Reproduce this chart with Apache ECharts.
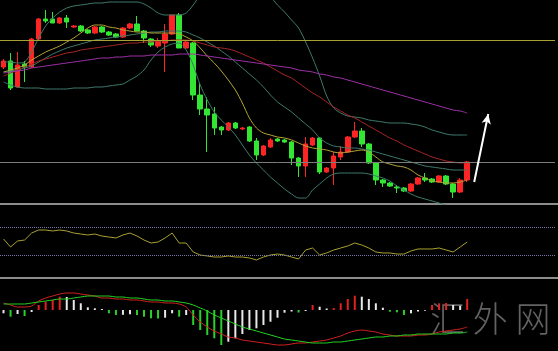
<!DOCTYPE html>
<html>
<head>
<meta charset="utf-8">
<title>K线图</title>
<style>
  html, body { margin: 0; padding: 0; background: #000; }
  #main { width: 558px; height: 351px; }
</style>
</head>
<body>
<div id="main"></div>
<script src="https://cdn.jsdelivr.net/npm/echarts@6/dist/echarts.min.js"></script>
<script>
    // 79 个时间槽, 前 67 根有K线, 右侧留空
    var slotCount = 79;
    var categories = [];
    for (var n = 1; n <= slotCount; n++) categories.push(String(n));

    // [开, 收, 低, 高]
    var kline = [
        [1233,1239,1231,1241],[1239,1212,1210,1247],[1213,1235,1212,1248],[1236,1233,1218,1239],
        [1233,1261,1232,1262],[1261,1281,1260,1282],[1281,1279,1277,1290],[1281,1277,1277,1288],
        [1277,1282,1276,1283],[1282,1278,1272,1285],[1273,1274,1272,1275],[1274,1269,1268,1275],
        [1270,1267,1266,1271],[1267,1273,1266,1274],[1273,1268,1267,1274],[1268,1265,1264,1269],
        [1266,1263,1262,1267],[1263,1272,1262,1273],[1272,1276,1271,1277],[1276,1269,1269,1284],
        [1269,1262,1257,1270],[1261,1255,1253,1262],[1254,1259,1252,1262],[1257,1266,1228,1276],
        [1266,1285,1265,1285],[1285,1252,1252,1287],[1252,1258,1251,1260],[1257,1205,1200,1258],
        [1205,1191,1185,1217],[1191,1185,1148,1203],[1186,1172,1165,1193],[1173,1170,1165,1174],
        [1170,1177,1169,1178],[1177,1172,1171,1178],[1171,1172,1170,1173],[1173,1159,1158,1174],
        [1159,1145,1140,1162],[1145,1154,1144,1155],[1153,1160,1152,1162],[1161,1159,1158,1162],
        [1160,1158,1157,1161],[1158,1142,1135,1159],[1142,1134,1123,1143],[1134,1156,1123,1163],
        [1155,1162,1154,1163],[1162,1128,1126,1163],[1128,1132,1127,1133],[1132,1144,1115,1148],
        [1143,1148,1140,1154],[1148,1163,1147,1164],[1163,1169,1162,1178],[1169,1156,1153,1172],
        [1156,1137,1136,1157],[1137,1120,1115,1138],[1120,1117,1113,1121],[1117,1114,1113,1118],
        [1113,1112,1107,1115],[1112,1109,1108,1113],[1109,1116,1108,1117],[1116,1122,1115,1123],
        [1122,1120,1118,1127],[1121,1118,1117,1122],[1118,1124,1117,1125],[1124,1116,1115,1125],
        [1116,1108,1102,1117],[1108,1120,1107,1122],[1120,1138,1118,1139]
    ];

    var maFast = [1228,1230,1232,1235,1240,1244,1248,1251,1254,1258,1262,1267,1272,1275,1275,1273,1272,1270,1269,1268,
        1268,1267,1267,1267,1267,1266,1263,1259,1252,1244,1237,1229,1220,1210,1197,1182,1172,1167,1165,1163,
        1162,1160,1157,1154,1152,1151,1150,1148,1147,1148,1149,1150,1148,1143,1138,1136,1134,1133,1130,1125,
        1122,1119,1118,1117,1117,1118,1120];
    var maMid = [1224,1227,1230,1233,1236,1239,1241,1243,1245,1247,1248,1250,1251,1252,1253,1254,1255,1256,1257,1257,
        1258,1258,1259,1259,1260,1260,1260,1259,1257,1255,1253,1252,1251,1249,1246,1243,1240,1237,1233,1229,
        1225,1222,1217,1212,1207,1203,1198,1193,1189,1185,1182,1178,1174,1170,1166,1162,1159,1155,1152,1149,
        1146,1143,1141,1139,1138,1137,1137];
    var maSlow = [1227,1228,1229,1230,1232,1233,1234,1235,1236,1237,1238,1239,1240,1241,1242,1242,1243,1243,1244,1244,
        1244,1245,1245,1245,1245,1246,1246,1246,1245,1244,1243,1242,1241,1240,1239,1238,1237,1236,1235,1234,
        1233,1232,1230,1229,1228,1226,1225,1223,1222,1220,1218,1216,1214,1212,1210,1208,1206,1204,1202,1200,
        1198,1196,1194,1192,1190,1189,1187];
    var bollUpper = [1238,1238,1237,1238,1248,1262,1274,1282,1288,1292,1294,1295,1296,1297,1297,1298,1298,1298,1298,1298,
        1296,1292,1287,1285,1285,1285,1287,1295,1305,1312,1320,1325,1328,1328,1325,1320,1314,1307,1303,1295,
        1288,1280,1272,1258,1242,1224,1204,1192,1187,1184,1183,1182,1180,1179,1178,1177,1177,1177,1176,1175,
        1173,1170,1168,1166,1165,1165,1165];
    var bollMiddle = [1228,1229,1230,1232,1234,1238,1242,1246,1249,1252,1254,1256,1258,1260,1261,1262,1263,1264,1265,1266,
        1267,1268,1268,1269,1269,1269,1268,1265,1262,1258,1254,1249,1244,1238,1232,1226,1220,1213,1205,1198,
        1193,1188,1182,1176,1170,1162,1157,1154,1153,1152,1152,1151,1150,1148,1146,1144,1142,1140,1138,1136,
        1134,1133,1132,1131,1130,1130,1130];
    var bollLower = [1218,1215,1213,1212,1212,1212,1211,1211,1211,1211,1212,1212,1212,1213,1213,1214,1215,1216,1220,1224,
        1230,1240,1248,1253,1256,1257,1250,1235,1215,1200,1188,1180,1173,1165,1155,1145,1137,1130,1123,1117,
        1111,1106,1102,1102,1110,1116,1122,1126,1127,1127,1127,1127,1126,1124,1122,1119,1114,1110,1106,1103,
        1101,1099,1097,1095,1093,1092,1091];

    var priceLevels = [1260, 1138];
    var arrowStart = [66 + 1, 1118];
    var arrowEnd = [66 + 3, 1186];

    var rsi = [52.9,41.4,50.0,51.4,61.4,65.7,65.7,64.3,65.7,64.3,61.4,60.0,58.6,60.0,57.1,55.7,54.3,58.6,61.4,57.1,
        51.4,47.1,48.6,54.3,61.4,47.1,47.1,34.3,30.0,28.6,27.1,27.1,28.6,27.1,27.1,25.7,22.9,27.1,30.0,31.4,
        30.0,27.1,24.3,37.1,40.0,30.0,32.9,37.1,40.0,42.9,47.1,44.3,40.0,34.3,32.9,32.9,31.4,31.4,35.7,38.6,
        38.6,38.6,40.0,37.1,34.3,41.4,48.6];
    var rsiLevels = [70, 30];

    var dif = [0.7,0.5,0.3,0.3,0.4,0.9,1.2,1.4,1.6,1.7,1.7,1.6,1.5,1.4,1.2,1.2,1.1,1.1,1.0,1.0,
        0.9,0.8,0.8,0.7,0.7,0.6,0.3,-0.5,-1.2,-1.7,-2.1,-2.4,-2.7,-2.8,-3.0,-3.1,-3.2,-3.3,-3.4,-3.5,
        -3.5,-3.4,-3.3,-3.3,-3.2,-3.1,-3.0,-2.8,-2.6,-2.3,-2.1,-2.0,-2.1,-2.2,-2.4,-2.5,-2.6,-2.6,-2.6,-2.5,
        -2.5,-2.4,-2.2,-2.1,-2.0,-1.9,-1.7];
    var dea = [0.6,0.6,0.6,0.6,0.7,0.8,0.9,1.0,1.1,1.1,1.2,1.3,1.4,1.4,1.4,1.4,1.3,1.3,1.2,1.2,
        1.1,1.0,1.0,0.9,0.9,0.8,0.7,0.5,0.2,-0.1,-0.5,-0.8,-1.1,-1.4,-1.7,-1.9,-2.1,-2.3,-2.5,-2.7,
        -2.9,-3.0,-3.1,-3.2,-3.3,-3.3,-3.3,-3.2,-3.2,-3.1,-3.0,-2.9,-2.8,-2.7,-2.7,-2.6,-2.6,-2.5,-2.5,-2.4,
        -2.4,-2.4,-2.4,-2.4,-2.3,-2.3,-2.2];
    var macdBar = [-0.33,-0.67,-0.4,-0.6,-0.2,0.5,0.83,1.0,1.33,1.3,1.0,0.67,0.27,0.17,0.1,-0.33,-0.5,-0.48,-0.43,-0.5,
        -0.67,-0.83,-0.85,-0.77,-0.33,-0.67,-0.5,-1.5,-2.0,-2.5,-2.83,-3.5,-3.17,-2.83,-2.4,-2.0,-1.83,-1.5,-1.17,-0.77,
        -0.27,-0.15,-0.25,-0.1,0.5,0.33,0.15,0.2,0.67,1.1,1.43,1.33,1.1,0.67,0.23,-0.17,-0.23,-0.5,-0.33,-0.15,
        -0.07,0.5,0.67,0.7,0.5,0.43,1.1];

    var myChart = echarts.init(document.getElementById('main'));

    function lineSeries(name, data, color, xi, smooth) {
        return {
            name: name, type: 'line', data: data,
            xAxisIndex: xi, yAxisIndex: xi,
            showSymbol: false, smooth: smooth, silent: true,
            lineStyle: { color: color, width: 1 }
        };
    }

    function hiddenX(gi) {
        return {
            type: 'category', gridIndex: gi, data: categories, boundaryGap: true,
            axisLine: { show: false }, axisTick: { show: false },
            axisLabel: { show: false }, splitLine: { show: false }
        };
    }
    function hiddenY(gi, min, max) {
        return {
            type: 'value', gridIndex: gi, min: min, max: max,
            axisLine: { show: false }, axisTick: { show: false },
            axisLabel: { show: false }, splitLine: { show: false }
        };
    }

    option = {
        backgroundColor: '#000',
        animation: false,
        grid: [
            { left: 0, top: 0, width: 555, height: 204 },
            { left: 0, top: 206, width: 555, height: 70 },
            { left: 0, top: 280, width: 555, height: 70 }
        ],
        xAxis: [hiddenX(0), hiddenX(1), hiddenX(2)],
        yAxis: [hiddenY(0, 1096, 1300), hiddenY(1, 0, 100), hiddenY(2, -4, 3)],
        graphic: [
            { type: 'rect', left: 0, top: 203, shape: { width: 558, height: 2 }, style: { fill: '#8c8c8c' }, silent: true },
            { type: 'rect', left: 0, top: 277, shape: { width: 558, height: 2 }, style: { fill: '#8c8c8c' }, silent: true },
            { type: 'text', left: 430, top: 301, silent: true,
              style: { text: '汇 外 网', fill: 'rgba(140,140,140,0.7)', font: '300 35px "Noto Sans CJK SC"' } }
        ],
        series: [
            {
                name: 'K', type: 'candlestick', data: kline, barWidth: 5,
                xAxisIndex: 0, yAxisIndex: 0, silent: true,
                itemStyle: { color: '#ff2424', color0: '#33e633', borderColor: '#ff2424', borderColor0: '#33e633', borderWidth: 1 },
                markLine: {
                    silent: true, symbol: 'none', label: { show: false },
                    data: [
                        { yAxis: priceLevels[0], lineStyle: { color: '#a8a030', width: 1, type: 'solid' } },
                        { yAxis: priceLevels[1], lineStyle: { color: '#7c7c7c', width: 1, type: 'solid' } },
                        [
                            { coord: arrowStart, symbol: 'none', lineStyle: { color: '#ffffff', width: 2, type: 'solid' } },
                            { coord: arrowEnd, symbol: 'arrow', symbolSize: [7, 10] }
                        ]
                    ]
                }
            },
            lineSeries('BOLL-UP', bollUpper, '#3e7a6c', 0, 0.3),
            lineSeries('BOLL-MID', bollMiddle, '#3e7a6c', 0, 0.3),
            lineSeries('BOLL-LOW', bollLower, '#3e7a6c', 0, 0.3),
            lineSeries('MA-S', maFast, '#b4a434', 0, 0.3),
            lineSeries('MA-M', maMid, '#a82424', 0, 0.3),
            lineSeries('MA-L', maSlow, '#a030a8', 0, 0.3),
            {
                name: 'RSI', type: 'line', data: rsi, xAxisIndex: 1, yAxisIndex: 1,
                showSymbol: false, silent: true,
                lineStyle: { color: '#a8a030', width: 1 },
                markLine: {
                    silent: true, symbol: 'none', label: { show: false },
                    lineStyle: { color: '#7878a8', width: 1, type: 'dotted' },
                    data: [{ yAxis: rsiLevels[0] }, { yAxis: rsiLevels[1] }]
                }
            },
            {
                name: 'MACD', type: 'bar', data: macdBar, xAxisIndex: 2, yAxisIndex: 2,
                barWidth: 2, silent: true,
                itemStyle: {
                    color: function (p) {
                        var i = p.dataIndex, v = macdBar[i];
                        var prev = i > 0 ? macdBar[i - 1] : v;
                        if (v >= 0) return v > prev ? '#e42020' : '#e8e8e8';
                        return v < prev ? '#28d028' : '#e8e8e8';
                    }
                }
            },
            lineSeries('DIF', dif, '#d42020', 2, 0.3),
            lineSeries('DEA', dea, '#22d422', 2, 0.3)
        ]
    };
    myChart.setOption(option);
</script>
</body>
</html>
